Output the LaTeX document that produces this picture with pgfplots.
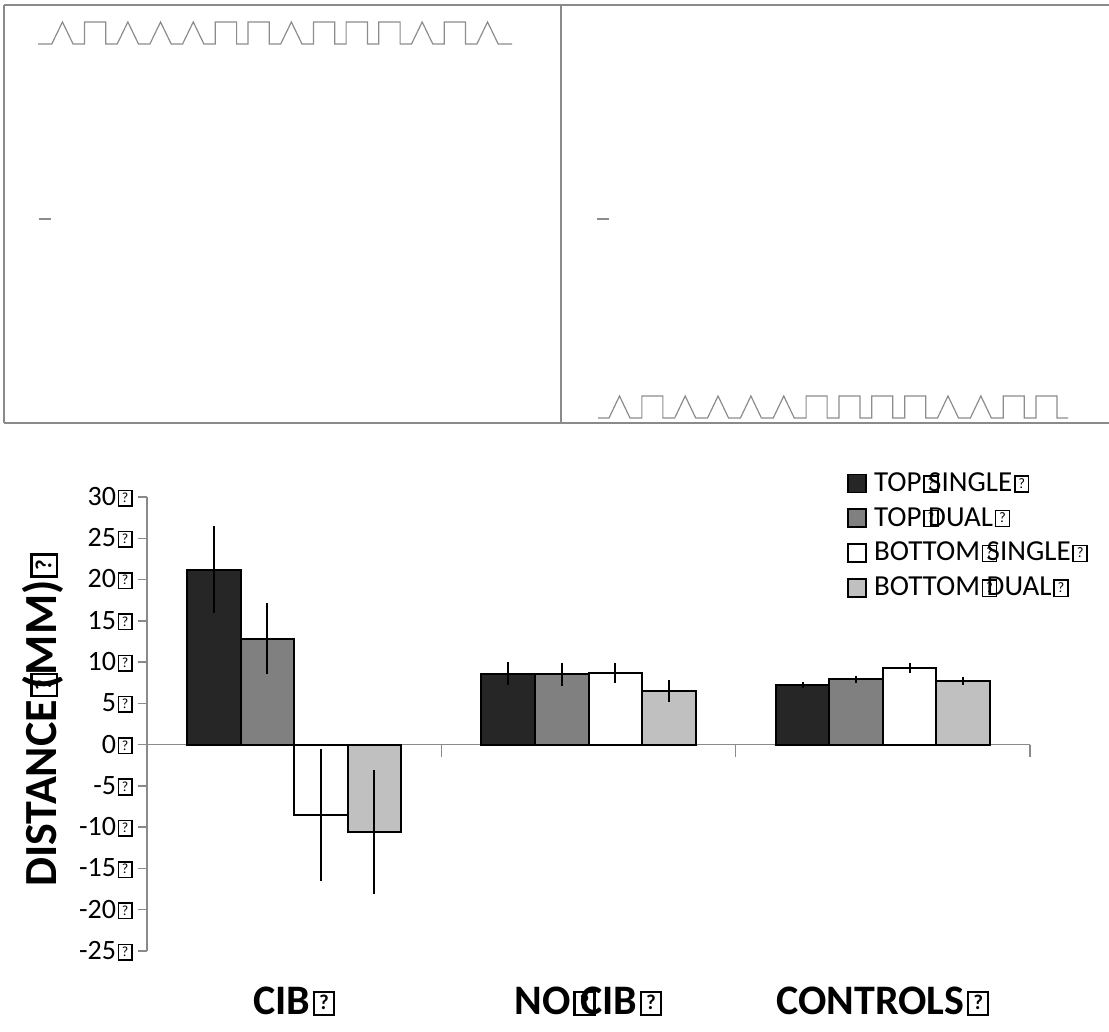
\documentclass[border=0pt]{standalone}
\usepackage{pgfplots}
\pgfplotsset{compat=1.18}
\usepackage{fontspec}
\setmainfont{Carlito}
\definecolor{cdark}{HTML}{262626}
\definecolor{cmid}{HTML}{808080}
\definecolor{clight}{HTML}{C0C0C0}
\definecolor{caxis}{HTML}{8A8A8A}
\definecolor{cwave}{HTML}{8C8C8C}
\newcommand\qb{{\setlength\fboxsep{0pt}\setlength\fboxrule{0.055em}\kern0.06em\raisebox{0.03em}{\fbox{\makebox[0.42em]{\rule[-0.02em]{0pt}{0.5em}\raisebox{0.08em}{\scalebox{0.5}{?}}}}}}}
\newcommand\qs{\rlap{\qb}\kern0.23em}
\begin{document}
\begin{tikzpicture}
\path[use as bounding box] (0pt,0pt) rectangle (554.5pt,516pt);
% ---------- top schematic panels (pixel coordinates) ----------
\begin{axis}[at={(0pt,0pt)}, anchor=south west, scale only axis,
  width=554.5pt, height=516pt, xmin=0, xmax=1109, ymin=0, ymax=1032,
  y dir=reverse, hide axis, clip=false]
\draw[caxis, line width=0.75pt] (axis cs:4,5) -- (axis cs:1109,5);
\draw[caxis, line width=0.75pt] (axis cs:4,5) -- (axis cs:4,423);
\draw[caxis, line width=0.75pt] (axis cs:4,423) -- (axis cs:1109,423);
\draw[caxis, line width=1.3pt] (axis cs:561,5) -- (axis cs:561,423);
\addplot[cwave, line width=0.6pt, mark=none] coordinates {
(38,44) (51.8,44) (62.45,22) (73.1,44) (84.5,44) (84.5,22) (105.8,22) (105.8,44)
(117.2,44) (127.85,22) (138.5,44) (149.9,44) (160.55,22) (171.2,44)
(182.6,44) (193.25,22) (203.9,44) (215.3,44) (215.3,22) (236.6,22) (236.6,44)
(248,44) (248,22) (269.3,22) (269.3,44) (280.7,44) (291.35,22) (302,44)
(313.4,44) (313.4,22) (334.7,22) (334.7,44) (346.1,44) (346.1,22) (367.4,22) (367.4,44)
(378.8,44) (378.8,22) (400.1,22) (400.1,44) (411.5,44) (422.15,22) (432.8,44)
(444.2,44) (444.2,22) (465.5,22) (465.5,44) (476.9,44) (487.55,22) (498.2,44) (512,44)};
\addplot[cwave, line width=0.6pt, mark=none] coordinates {
(598,418) (609,418) (619.5,396) (630,418) (641.85,418) (641.85,396) (662.85,396) (662.85,418)
(674.7,418) (685.2,396) (695.7,418) (707.55,418) (718.05,396) (728.55,418)
(740.4,418) (750.9,396) (761.4,418) (773.25,418) (783.75,396) (794.25,418)
(806.1,418) (806.1,396) (827.1,396) (827.1,418) (838.95,418) (838.95,396) (859.95,396) (859.95,418)
(871.8,418) (871.8,396) (892.8,396) (892.8,418) (904.65,418) (904.65,396) (925.65,396) (925.65,418)
(937.5,418) (948,396) (958.5,418) (970.35,418) (980.85,396) (991.35,418)
(1003.2,418) (1003.2,396) (1024.2,396) (1024.2,418) (1036.05,418) (1036.05,396) (1057.05,396) (1057.05,418) (1068,418)};
\addplot[cwave, line width=0.6pt, mark=none] coordinates {(39,219) (51,219)};
\addplot[cwave, line width=0.6pt, mark=none] coordinates {(597,219) (609,219)};
\end{axis}
% ---------- bar chart ----------
\begin{axis}[at={(73.5pt,40.5pt)}, anchor=south west, scale only axis,
  width=441.5pt, height=227pt,
  xmin=-0.5, xmax=2.5, ymin=-25, ymax=30,
  ybar, bar width=0.1818,
  axis y line*=left, axis x line*=bottom,
  x axis line style={draw=none},
  y axis line style={caxis, line width=0.75pt},
  ytick={-25,-20,-15,-10,-5,0,5,10,15,20,25,30},
  yticklabels={-25\qb,-20\qb,-15\qb,-10\qb,-5\qb,0\qb,5\qb,10\qb,15\qb,20\qb,25\qb,30\qb},
  yticklabel style={font=\fontsize{14}{16}\selectfont, inner sep=0pt, xshift=-2.5pt},
  tick align=outside, major tick length=4.5pt,
  ytick style={caxis, line width=0.75pt},
  xtick={0,1,2},
  xticklabels={{CIB\qb},{NO\qs CIB\qb},{CONTROLS\qb}},
  xticklabel style={font=\fontsize{21}{24}\bfseries\selectfont, anchor=north, yshift=-10pt},
  xtick style={draw=none},
  ylabel={DISTANCE\qs(MM)\qb},
  ylabel style={at={(axis description cs:-0.118,0.509)}, anchor=center, font=\fontsize{23}{26}\bfseries\selectfont},
  clip=false,
  legend style={at={(axis description cs:0.786,1.068)}, anchor=north west, draw=none, fill=none,
    font=\fontsize{14.5}{16}\selectfont, row sep=4.5pt, column sep=2.5pt, nodes={inner sep=1pt}},
  legend cell align=left,
  legend image code/.code={\draw[#1, draw=black, line width=0.8pt] (0pt,-4.5pt) rectangle (9pt,4.5pt);},
  error bars/y dir=both, error bars/y explicit,
  error bars/error mark=none,
  error bars/error bar style={black, line width=1pt},
]
\draw[caxis, line width=0.75pt] (axis cs:-0.5,0) -- (axis cs:2.5,0);
\draw[caxis, line width=0.75pt] (axis cs:0.5,0) -- ++(0pt,-6pt);
\draw[caxis, line width=0.75pt] (axis cs:1.5,0) -- ++(0pt,-6pt);
\draw[caxis, line width=0.75pt] (axis cs:2.5,0) -- ++(0pt,-6pt);
\addplot[fill=cdark, draw=black, line width=1pt, bar shift=-0.2727] coordinates {
 (0,21.2) +- (0,5.25) (1,8.6) +- (0,1.4) (2,7.2) +- (0,0.4)};
\addlegendentry{TOP\qs SINGLE\qb}
\addplot[fill=cmid, draw=black, line width=1pt, bar shift=-0.0909] coordinates {
 (0,12.8) +- (0,4.3) (1,8.5) +- (0,1.4) (2,7.9) +- (0,0.45)};
\addlegendentry{TOP\qs DUAL\qb}
\addplot[fill=white, draw=black, line width=1pt, bar shift=0.0909] coordinates {
 (0,-8.5) +- (0,8) (1,8.7) +- (0,1.2) (2,9.3) +- (0,0.6)};
\addlegendentry{BOTTOM\qs SINGLE\qb}
\addplot[fill=clight, draw=black, line width=1pt, bar shift=0.2727] coordinates {
 (0,-10.6) +- (0,7.5) (1,6.5) +- (0,1.3) (2,7.7) +- (0,0.5)};
\addlegendentry{BOTTOM\qs DUAL\qb}
\end{axis}
\end{tikzpicture}
\end{document}
